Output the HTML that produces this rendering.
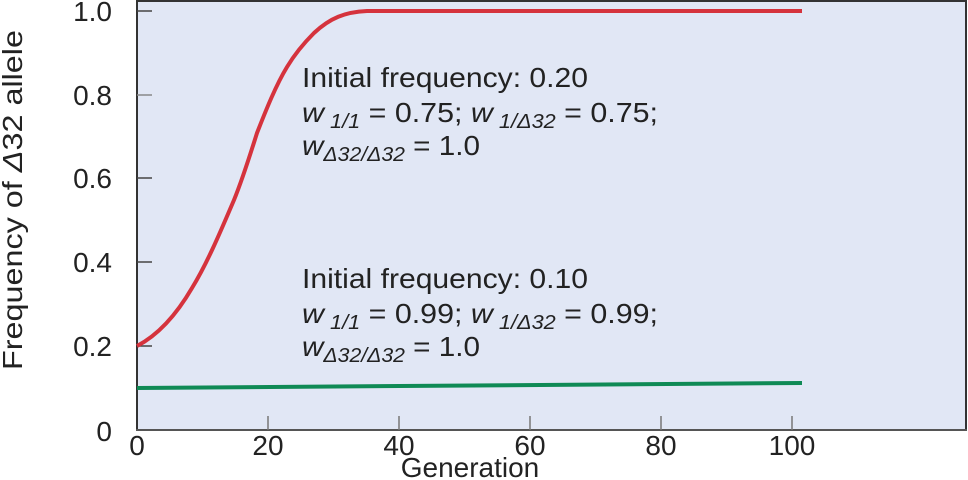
<!DOCTYPE html>
<html><head><meta charset="utf-8"><style>
html,body{margin:0;padding:0;background:#fff}
svg{display:block}
text{font-family:"Liberation Sans",sans-serif;fill:#222}
</style></head><body>
<svg width="968" height="480" viewBox="0 0 968 480" xmlns="http://www.w3.org/2000/svg">
<rect x="137" y="1" width="829" height="429" fill="#e1e7f5"/>
<path d="M137,430 V1 H966 V430" fill="none" stroke="#333" stroke-width="2"/>
<line x1="136" y1="430" x2="967" y2="430" stroke="#555" stroke-width="2"/>
<g stroke="#444" stroke-width="1.5">
<line x1="137" y1="11" x2="152" y2="11"/>
<line x1="137" y1="95" x2="152" y2="95" stroke="#888"/>
<line x1="137" y1="178" x2="152" y2="178"/>
<line x1="137" y1="262" x2="152" y2="262"/>
<line x1="137" y1="346" x2="152" y2="346"/>
<line x1="268" y1="430" x2="268" y2="416" stroke="#777"/>
<line x1="399" y1="430" x2="399" y2="416" stroke="#777"/>
<line x1="530" y1="430" x2="530" y2="416" stroke="#777"/>
<line x1="661" y1="430" x2="661" y2="416" stroke="#777"/>
<line x1="792" y1="430" x2="792" y2="416" stroke="#777"/>
</g>
<path d="M137,346 C160,334 178,312 192,288 C208,262 222,228 234,200 C243,178 250,155 257,133 C266,110 276,85 287,67 C296,52 305,42 314,33 C330,18 345,12 367,11 L802,11" fill="none" stroke="#d5333d" stroke-width="4"/>
<path d="M137,388 L802,383" fill="none" stroke="#0f8a55" stroke-width="4"/>
<g font-size="28" text-anchor="end">
<text x="112" y="21">1.0</text>
<text x="112" y="105">0.8</text>
<text x="112" y="188">0.6</text>
<text x="112" y="272">0.4</text>
<text x="112" y="356">0.2</text>
<text x="112" y="441">0</text>
</g>
<g font-size="28" text-anchor="middle">
<text x="137" y="455">0</text>
<text x="268" y="455">20</text>
<text x="399" y="455">40</text>
<text x="530" y="455">60</text>
<text x="661" y="455">80</text>
<text x="792" y="455">100</text>
<text x="470" y="477">Generation</text>
</g>
<text font-size="28" text-anchor="middle" textLength="340" lengthAdjust="spacingAndGlyphs" transform="translate(22,200) rotate(-90)">Frequency of <tspan font-style="italic">Δ</tspan>32 allele</text>
<g font-size="28">
<text x="302" y="87" textLength="286" lengthAdjust="spacingAndGlyphs">Initial frequency: 0.20</text>
<text x="302" y="122" textLength="356" lengthAdjust="spacingAndGlyphs"><tspan font-style="italic">w</tspan><tspan font-size="20" font-style="italic" dy="6"> 1/1</tspan><tspan dy="-6"> = 0.75; </tspan><tspan font-style="italic">w</tspan><tspan font-size="20" font-style="italic" dy="6"> 1/Δ32</tspan><tspan dy="-6"> = 0.75;</tspan></text>
<text x="302" y="155" textLength="178" lengthAdjust="spacingAndGlyphs"><tspan font-style="italic">w</tspan><tspan font-size="20" font-style="italic" dy="6">Δ32/Δ32</tspan><tspan dy="-6"> = 1.0</tspan></text>
<text x="302" y="288" textLength="286" lengthAdjust="spacingAndGlyphs">Initial frequency: 0.10</text>
<text x="302" y="323" textLength="356" lengthAdjust="spacingAndGlyphs"><tspan font-style="italic">w</tspan><tspan font-size="20" font-style="italic" dy="6"> 1/1</tspan><tspan dy="-6"> = 0.99; </tspan><tspan font-style="italic">w</tspan><tspan font-size="20" font-style="italic" dy="6"> 1/Δ32</tspan><tspan dy="-6"> = 0.99;</tspan></text>
<text x="302" y="356" textLength="178" lengthAdjust="spacingAndGlyphs"><tspan font-style="italic">w</tspan><tspan font-size="20" font-style="italic" dy="6">Δ32/Δ32</tspan><tspan dy="-6"> = 1.0</tspan></text>
</g>
</svg>
</body></html>
